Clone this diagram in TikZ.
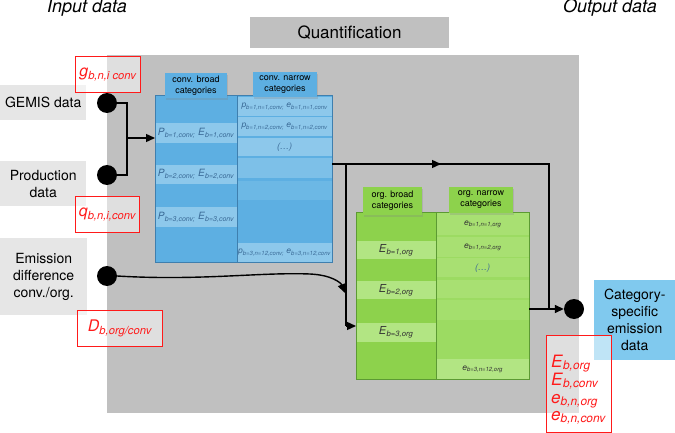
\documentclass[tikz,border=0pt]{standalone}
\usepackage{fontspec}
\setmainfont{TeX Gyre Heros}
\usetikzlibrary{arrows.meta,shadows}
\definecolor{bggray}{HTML}{C0C0C0}
\definecolor{lgray}{HTML}{E6E6E6}
\definecolor{bbase}{HTML}{5DAFE2}
\definecolor{blight}{HTML}{8DC8EB}
\definecolor{bmid}{HTML}{7DC0E8}
\definecolor{bmid2}{HTML}{6CB8E5}
\definecolor{bline}{HTML}{3F7FAE}
\definecolor{btext}{HTML}{3A6A96}
\definecolor{gbase}{HTML}{8DD24C}
\definecolor{glight}{HTML}{B2E583}
\definecolor{gcell}{HTML}{A8E072}
\definecolor{gmid}{HTML}{9CDB62}
\definecolor{gline}{HTML}{5C9A33}
\definecolor{gtext}{HTML}{333333}
\definecolor{outblue}{HTML}{80C9EE}
\definecolor{redl}{HTML}{FF1A1A}
\newcommand{\myv}[2]{\textit{#1}\textsubscript{\textit{#2}}}
\begin{document}
\begin{tikzpicture}[x=1pt,y=-1pt,
  conn/.style={line width=1.4pt},
  tip/.style={-{Triangle[length=9pt,width=8pt]}},
  dotn/.style={circle,fill=black,minimum size=20pt,inner sep=0},
  graybox/.style={fill=lgray,inner sep=0,align=center,anchor=north west,font=\fontsize{14}{17}\selectfont},
  redbox/.style={draw=redl,line width=1.3pt,fill=white,fill opacity=.5,text opacity=1,text=redl,inner sep=0,anchor=north west,font=\fontsize{16}{19}\selectfont},
  hdr/.style={inner sep=0,align=center,font=\fontsize{9}{11}\selectfont,drop shadow={opacity=.25,shadow xshift=1pt,shadow yshift=-2pt}},
  cell/.style={inner sep=0,anchor=north west},
  bcell/.style={cell,text=btext},
  gcellst/.style={cell,text=gtext},
  redtxt/.style={inner sep=0,anchor=base west,text=redl,font=\fontsize{17}{19}\selectfont},
 ]
\useasboundingbox (0,0) rectangle (675,433);
% background
\fill[bggray] (107,55) rectangle (579,413);
\node[fill=bggray,minimum width=199pt,minimum height=31pt,inner sep=0,font=\fontsize{17}{20}\selectfont] (quant) at (349.5,32.5) {Quantification};
\node[font=\fontsize{18}{20}\selectfont\itshape,inner sep=0] (inp) at (87,8) {Input data};
\node[font=\fontsize{18}{20}\selectfont\itshape,inner sep=0] (outp) at (610,8) {Output data};
% input boxes
\node[graybox,minimum width=86pt,minimum height=35pt] (gemis) at (0,85) {GEMIS data};
\node[graybox,minimum width=86pt,minimum height=45pt] (prod) at (0,161) {Production\\data};
\node[graybox,minimum width=87pt,minimum height=77pt] (emis) at (0,238) {Emission\\difference\\conv./org.};
% red labels
\node[redbox,minimum width=65pt,minimum height=36pt] (glab) at (75,56) {\myv{g}{b,n,i conv}};
\node[redbox,minimum width=64pt,minimum height=36pt] (qlab) at (75,196) {\myv{q}{b,n,i,conv}};
\node[redbox,minimum width=85pt,minimum height=36pt] (dlab) at (77,310) {\myv{D}{b,org/conv}};
% blue block
\fill[bbase] (155,95) rectangle (332,262);
\node[bcell,fill=blight,minimum width=82pt,minimum height=20pt,font=\fontsize{10}{12}\selectfont] (pb1) at (155,123) {\myv{P}{b=1,conv;}~\myv{E}{b=1,conv}};
\node[bcell,fill=blight,minimum width=82pt,minimum height=19pt,font=\fontsize{10}{12}\selectfont] (pb2) at (155,165) {\myv{P}{b=2,conv;}~\myv{E}{b=2,conv}};
\node[bcell,fill=blight,minimum width=82pt,minimum height=20pt,font=\fontsize{10}{12}\selectfont] (pb3) at (155,207) {\myv{P}{b=3,conv;}~\myv{E}{b=3,conv}};
\node[bcell,fill=blight,minimum width=95pt,minimum height=19pt,font=\fontsize{8.5}{10}\selectfont] (pn1) at (237,97) {\myv{p}{b=1,n=1,conv;}~\myv{e}{b=1,n=1,conv}};
\node[bcell,fill=blight,minimum width=95pt,minimum height=19pt,font=\fontsize{8.5}{10}\selectfont] (pn2) at (237,117) {\myv{p}{b=1,n=2,conv;}~\myv{e}{b=1,n=2,conv}};
\node[bcell,fill=blight,minimum width=95pt,minimum height=18pt,font=\fontsize{9}{10}\selectfont\itshape] (pn3) at (237,138) {(\dots)};
\node[bcell,fill=bmid,minimum width=95pt,minimum height=20pt] (pn4) at (237,158) {};
\node[bcell,fill=bmid2,minimum width=95pt,minimum height=19pt] (pn5) at (237,181) {};
\node[bcell,fill=blight,minimum width=95pt,minimum height=19pt,font=\fontsize{8.5}{10}\selectfont] (pn12) at (237,243) {\myv{p}{b=3,n=12,conv;}~\myv{e}{b=3,n=12,conv}};
\node[draw=bline,line width=.6pt,minimum width=82pt,minimum height=167pt,anchor=north west,inner sep=0] (bb) at (155,95) {};
\node[draw=bline,line width=.6pt,minimum width=95pt,minimum height=167pt,anchor=north west,inner sep=0] (bn) at (237,95) {};
\node[hdr,fill=bbase,minimum width=62pt,minimum height=25pt] (hb) at (196,85.5) {conv. broad\\categories};
\node[hdr,fill=bbase,minimum width=64pt,minimum height=25pt] (hn) at (285,84.5) {conv. narrow\\categories};
% green block
\fill[gbase] (356,212) rectangle (529,379);
\fill[gmid] (436,212) rectangle (529,379);
\node[gcellst,fill=glight,minimum width=80pt,minimum height=18pt,font=\fontsize{11}{12}\selectfont] (eb1) at (356,241) {\myv{E}{b=1,org}};
\node[gcellst,fill=glight,minimum width=80pt,minimum height=18pt,font=\fontsize{11}{12}\selectfont] (eb2) at (356,281) {\myv{E}{b=2,org}};
\node[gcellst,fill=glight,minimum width=80pt,minimum height=19pt,font=\fontsize{11}{12}\selectfont] (eb3) at (356,323) {\myv{E}{b=3,org}};
\node[gcellst,fill=gcell,minimum width=93pt,minimum height=22pt,font=\fontsize{8.5}{10}\selectfont] (en1) at (436,213) {\myv{e}{b=1,n=1,org}};
\node[gcellst,fill=gcell,minimum width=93pt,minimum height=20pt,font=\fontsize{8.5}{10}\selectfont] (en2) at (436,237) {\myv{e}{b=1,n=2,org}};
\node[cell,text=btext,fill=gcell,minimum width=93pt,minimum height=19pt,font=\fontsize{9}{10}\selectfont\itshape] (en3) at (436,258) {(\dots)};
\node[cell,fill=gcell,minimum width=93pt,minimum height=18pt] (en4) at (436,280) {};
\node[cell,fill=gcell!70!gmid,minimum width=93pt,minimum height=20pt] (en5) at (436,300) {};
\node[gcellst,fill=glight,minimum width=93pt,minimum height=20pt,font=\fontsize{8.5}{10}\selectfont] (en12) at (436,359) {\myv{e}{b=3,n=12,org}};
\node[draw=gline,line width=.6pt,minimum width=80pt,minimum height=167pt,anchor=north west,inner sep=0] (gb) at (356,212) {};
\node[draw=gline,line width=.6pt,minimum width=93pt,minimum height=167pt,anchor=north west,inner sep=0] (gn) at (436,212) {};
\node[hdr,fill=gbase,minimum width=59pt,minimum height=28pt] (hgb) at (392.5,201) {org. broad\\categories};
\node[hdr,fill=gbase,minimum width=64pt,minimum height=26pt] (hgn) at (481,200) {org. narrow\\categories};
% output
\node[fill=outblue,minimum width=81pt,minimum height=80pt,anchor=north west,inner sep=0,align=center,font=\fontsize{14}{17}\selectfont] (cat) at (594,280) {Category-\\specific\\emission\\data};
\node[redbox,minimum width=65pt,minimum height=97pt] (outr) at (546,335) {};
\node[redtxt] (o1) at (551,367) {\myv{E}{b,org}};
\node[redtxt] (o2) at (551,385) {\myv{E}{b,conv}};
\node[redtxt] (o3) at (551,403) {\myv{e}{b,n,org}};
\node[redtxt] (o4) at (551,420) {\myv{e}{b,n,conv}};
% dots
\node[dotn] (dg) at (107,103) {};
\node[dotn] (dp) at (107,175) {};
\node[dotn] (de) at (107,276) {};
\node[dotn] (dout) at (574,309) {};
% connectors
\coordinate (j1) at (127,138);
\draw[conn] (dg) -| (j1);
\draw[conn] (dp) -| (j1);
\draw[conn,tip] (j1) -- (j1 -| bb.west);
\coordinate (a1) at (332,164);
\coordinate (amid) at (441,164);
\coordinate (a2) at (549,164);
\coordinate (a3) at (549,309);
\coordinate (a4) at (346,164);
\coordinate (a5) at (346,326);
\coordinate (gout) at (529,309);
\draw[conn,tip] (a1) -- (amid);
\draw[conn] (436,164) -- (a2) -- (a3);
\draw[conn] (a4) -- (a5);
\draw[conn,tip] (a5) -- (a5 -| gb.west);
\draw[conn,tip] (gout) -- (dout.west);
\coordinate (cend) at (345,293);
\draw[conn,tip] (de.east) .. controls (200,281) and (260,272) .. (310,274) .. controls (332,275) and (341,283) .. (cend);
\end{tikzpicture}
\end{document}
